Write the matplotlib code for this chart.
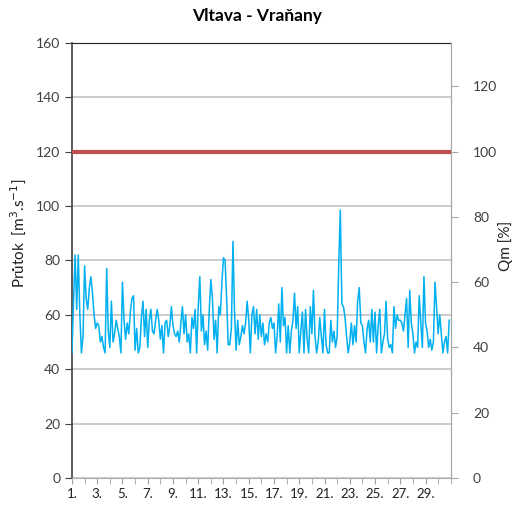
import matplotlib
matplotlib.use("Agg")
import matplotlib.pyplot as plt
import numpy as np

plt.rcParams['font.family'] = ['Lato', 'DejaVu Sans']

# flow readings every 3 hours, 30 days (m3/s)
flow = [
    46, 65, 82, 62, 82, 60, 46, 52, 78, 66, 62, 70, 74, 68, 60, 55, 57, 56, 50, 52,
    48, 46, 77, 54, 48, 65, 50, 53, 58, 55, 52, 46, 72, 58, 51, 57, 53, 61, 66, 67,
    47,
    55, 46, 48, 59, 65, 52, 62, 48, 58, 62, 54, 53, 58, 62, 58, 51, 56, 46, 57, 58,
    52, 56, 63, 56, 53, 52, 54, 50, 57, 63, 53, 60, 50, 53, 46, 59, 55, 62, 46, 63,
    74,
    54, 60, 49, 54, 47, 62, 73, 66, 51, 58, 46, 63, 60, 72, 81, 80, 66, 49, 49, 55,
    87, 61, 47, 58, 49, 52, 56, 53, 57, 65, 58, 46, 60, 63, 53, 62, 51, 60, 52, 57,
    49,
    53, 50, 57, 59, 55, 57, 46, 52, 64, 50, 70, 56, 59, 46, 56, 46, 54, 58, 68, 55,
    63, 46, 54, 61, 46, 62, 51, 46, 63, 53, 69, 52, 46, 50, 59, 52, 46, 62, 49, 46,
    46, 58, 50, 54, 48, 52, 78, 98.5, 64, 63, 59, 52, 46, 50, 57, 49, 56, 50, 65, 70,
    57, 56, 50, 46, 55, 58, 50, 62, 50, 61, 46, 56, 62, 46, 50, 53, 65, 51, 48, 49,
    46, 63,
    55, 60, 58, 58, 57, 54, 60, 66, 48, 69, 57, 53, 46, 50, 48, 67, 57, 48, 74, 57,
    54, 48, 51, 47, 50, 72, 63, 53, 60, 53, 46, 50, 52, 46, 58,
]
qm_limit = 120  # flow at 100 % Qm
day_labels = ["%d." % d for d in range(1, 30, 2)]

hours = np.arange(len(flow)) * 3
days = 1 + hours / 24.0

fig = plt.figure(figsize=(5.14, 5.12), dpi=100)
ax = fig.add_axes([0.140, 0.0664, 0.737, 0.850])

ax.plot(days, flow, color='#00B0F0', lw=1.1, zorder=3)
ax.axhline(qm_limit, color='#C0504D', lw=3, zorder=4)

ax.set_xlim(1, 31)
ax.set_ylim(0, 160)
ax.set_yticks(np.arange(0, 161, 20))
ax.set_xticks(np.arange(1, 30, 2))
ax.set_xticklabels(day_labels)
ax.set_xticks(np.arange(1, 32), minor=True)
ax.grid(axis='y', color='#C8C8C8', lw=1.3, zorder=0)
ax.tick_params(axis='y', labelsize=10, colors='#404040', length=5, direction='out')
ax.tick_params(axis='x', which='both', labelsize=9.5, labelcolor='#202020', color='#A0A0A0',
               length=4, direction='out')
ax.spines['left'].set_color('#404040')
ax.spines['top'].set_color('#202020')
ax.spines['bottom'].set_color('#B0B0B0')
ax.spines['right'].set_color('#A6A6A6')
ax.spines['left'].set_linewidth(1.2)

ax2 = ax.twinx()
ax2.set_ylim(0, 160 / 1.2)
ax2.set_yticks(np.arange(0, 121, 20))
ax2.tick_params(axis='y', labelsize=10, colors='#A6A6A6', labelcolor='#404040',
                length=5, direction='out', pad=11)
ax2.spines['right'].set_color('#A6A6A6')
for s in ['left', 'top', 'bottom']:
    ax2.spines[s].set_visible(False)

# axis titles placed like in the original sheet
fig.text(0.036, 0.545, 'Průtok  [m$^{3}$.s$^{-1}$]', rotation=90, fontsize=11,
         color='#202020', ha='center', va='center')
fig.text(0.984, 0.52, 'Qm [%]', rotation=90, fontsize=11,
         color='#202020', ha='center', va='center')

fig.suptitle('Vltava - Vraňany', fontsize=12.5, fontweight='bold', y=0.985)

fig.savefig('out.png', dpi=100)
